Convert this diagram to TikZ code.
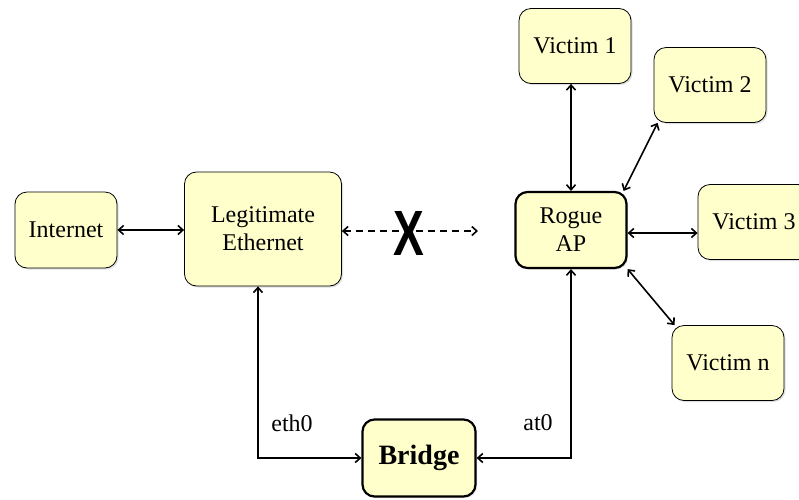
\documentclass[tikz,border=0pt]{standalone}
\usepackage{fontspec}
\setmainfont{Liberation Serif}
\setsansfont{Liberation Sans}
\usetikzlibrary{arrows.meta,shadows}
\definecolor{boxfill}{RGB}{255,255,204}
\tikzset{
  box/.style={draw, fill=boxfill, rounded corners=12pt, line width=0.8pt, inner sep=0pt, align=center,
    font=\fontsize{24}{28}\selectfont,
    drop shadow={shadow xshift=1.5pt, shadow yshift=-1.5pt, opacity=0.25}},
  victim/.style={box, minimum width=112pt, minimum height=75pt},
  thickbox/.style={line width=2.2pt},
  link/.style={line width=1.6pt, <->, >={Straight Barb[length=5pt,width=9pt]}},
  tag/.style={font=\fontsize{24}{28}\selectfont}
}
\begin{document}
\begin{tikzpicture}[x=1pt,y=-1pt]
  \useasboundingbox (0,0) rectangle (799,499);

  \node [box, minimum width=102pt, minimum height=76pt] (internet) at (66,230) {Internet};
  \node [box, minimum width=157pt, minimum height=114pt] (legit) at (263,229) {Legitimate\\Ethernet};
  \node [box, thickbox, minimum width=111pt, minimum height=76pt] (rogue) at (571,230) {Rogue\\AP};
  \node [box, thickbox, minimum width=113pt, minimum height=77pt, font=\bfseries\fontsize{28}{32}\selectfont] (bridge) at (419,458) {Bridge};

  \node [victim] (victim1) at (575,46) {Victim 1};
  \node [victim] (victim2) at (710,85) {Victim 2};
  \node [victim] (victim3) at (754,222) {Victim 3};
  \node [victim] (victimn) at (728,363) {Victim n};

  \draw [link] (internet.east) -- (internet.east -| legit.west);
  \coordinate (apgap) at (478,231);
  \draw [link, dash pattern=on 7pt off 5pt] (legit.east |- apgap) -- (apgap);
  \node [font=\sffamily\bfseries\fontsize{64}{64}\selectfont, xscale=0.72] (cross) at (409,233) {X};

  \draw [link] ([xshift=-5pt]legit.south) |- (bridge.west);
  \draw [link] (rogue.south) |- (bridge.east);
  \node [tag] (eth) at (292,423) {eth0};
  \node [tag] (at) at (538,423) {at0};

  % AP -- victims
  \draw [link] (rogue.north) -- (rogue.north |- victim1.south);
  \draw [link] ([xshift=-4pt]rogue.north east) -- ([xshift=4pt]victim2.south west);
  \draw [link] ([yshift=-3pt]rogue.east) -- ([yshift=-3pt]rogue.east -| victim3.west);
  \draw [link] (rogue.south east) -- ([xshift=3pt]victimn.north west);
\end{tikzpicture}
\end{document}
